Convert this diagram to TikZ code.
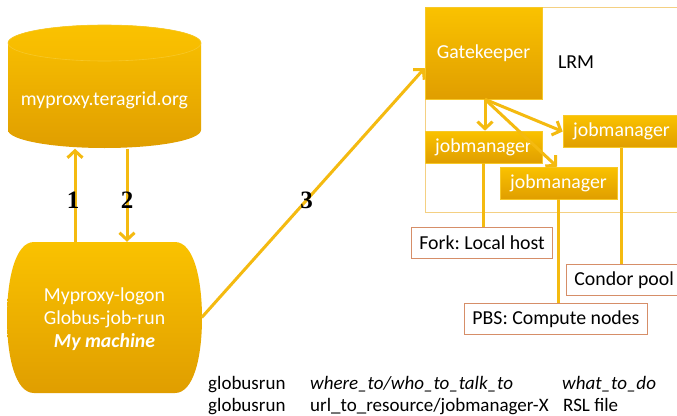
\documentclass[tikz,border=0pt]{standalone}
\usepackage{fontspec}
\setmainfont{Carlito}
\newfontfamily\numfont{Liberation Serif}
\usetikzlibrary{arrows.meta,calc}
\frenchspacing
\definecolor{goldtop}{RGB}{250,194,0}
\definecolor{goldbot}{RGB}{224,158,0}
\definecolor{goldmid}{RGB}{246,186,0}
\definecolor{goldedge}{RGB}{247,200,40}
\definecolor{connc}{RGB}{244,186,16}
\definecolor{lrmline}{RGB}{244,208,130}
\definecolor{lblline}{RGB}{214,142,104}
\begin{document}
\frenchspacing
\begin{tikzpicture}[x=1pt,y=-1pt,
  font=\fontsize{19.8}{23}\selectfont,
  goldbox/.style={top color=goldtop,bottom color=goldbot,draw=goldedge,line width=0.6pt,text=white,inner sep=0pt},
  jmbox/.style={goldbox,minimum width=117pt,minimum height=32pt},
  connline/.style={draw=connc,line width=3pt},
  arr/.style={connline,-{Straight Barb[length=7pt,width=15pt]}},
  lbl/.style={draw=lblline,line width=0.8pt,fill=white,text=black,inner xsep=8pt,inner ysep=0pt,minimum height=31pt,anchor=north west},
  num/.style={font=\numfont\bfseries\fontsize{25}{27}\selectfont,text=black,inner sep=0pt},
  plain/.style={anchor=base west,inner sep=0pt,text=black,font=\fontsize{19}{22}\selectfont}]
\clip (0,0) rectangle (677,415);
\fill[white] (0,0) rectangle (677,415);

% cylinder myproxy
\shade[top color=goldtop,bottom color=goldbot]
  (8,43) -- (8,130) arc[start angle=180,end angle=0,x radius=96.5,y radius=18]
  -- (201,43) arc[start angle=0,end angle=-180,x radius=96.5,y radius=18] -- cycle;
\shade[top color=goldtop,bottom color=goldmid,draw=goldedge,line width=0.6pt]
  (104.5,43) ellipse[x radius=96.5,y radius=18];
\node[text=white,minimum width=193pt,minimum height=123pt,inner sep=0pt] (proxy) at (104.5,87) {};
\node[text=white] at (104.5,100) {myproxy.teragrid.org};

% my machine barrel
\shade[top color=goldtop,bottom color=goldbot]
  (34,242) -- (175,242) .. controls (194,242) and (202,280) .. (202,318)
  .. controls (202,356) and (194,393) .. (175,393) -- (34,393)
  .. controls (15,393) and (7,356) .. (7,318) .. controls (7,280) and (15,242) .. (34,242) -- cycle;
\node[text=white,align=center,minimum width=194pt,minimum height=151pt,inner sep=0pt] (mach) at (104.5,317.5) {};
\node[text=white,align=center] at (104.5,319) {Myproxy-logon\\Globus-job-run\\\textbf{\textit{My machine}}};

% LRM region
\draw[lrmline,line width=1pt] (425,7) rectangle (700,212);
\node[goldbox,minimum width=117pt,minimum height=92pt] (gate) at (483.5,53) {Gatekeeper};
\node[text=black] (lrm) at (576,62) {LRM};
\node[jmbox] (jm1) at (483.5,147) {jobmanager};
\node[jmbox] (jm2) at (621.5,131.5) {jobmanager};
\node[jmbox] (jm3) at (558.5,183) {jobmanager};

% resource labels
\node[lbl] (fork) at (411,227) {Fork: Local host};
\node[lbl] (condor) at (566,264) {Condor pool};
\node[lbl] (pbs) at (464,303) {PBS: Compute nodes};

\draw[connline] (jm1.south) -- (jm1.south |- fork.north);
\draw[connline] (jm3.south) -- (jm3.south |- pbs.north);
\draw[connline] (jm2.south) -- (jm2.south |- condor.north);

% arrows
\draw[arr] ([xshift=-29.5pt]mach.north) -- ([xshift=-29.5pt]proxy.south) node[num,pos=0.45,xshift=-2pt] {1};
\draw[arr] ([xshift=22.5pt]proxy.south) -- ([xshift=22.5pt]mach.north) node[num,pos=0.55] {2};
\draw[arr] (mach.east) -- ([yshift=-15pt]gate.west) node[num,pos=0.47] {3};
\draw[arr] ([xshift=1.5pt]gate.south) -- ([xshift=1.5pt]jm1.north);
\draw[arr] ([xshift=1.5pt]gate.south) -- (jm2.west);
\draw[arr] ([xshift=1.5pt]gate.south) -- ([xshift=-1.5pt]jm3.north);

% bottom text
\node[plain] (g1) at (208,389) {globusrun};
\node[plain] (w1) at (310,389) {\textit{where\_to/who\_to\_talk\_to}};
\node[plain] (d1) at (562,389) {\textit{what\_to\_do}};
\node[plain] (g2) at (208,411) {globusrun};
\node[plain] (w2) at (310,411) {url\_to\_resource/jobmanager-X};
\node[plain] (d2) at (563,411) {RSL file};
\end{tikzpicture}
\end{document}
